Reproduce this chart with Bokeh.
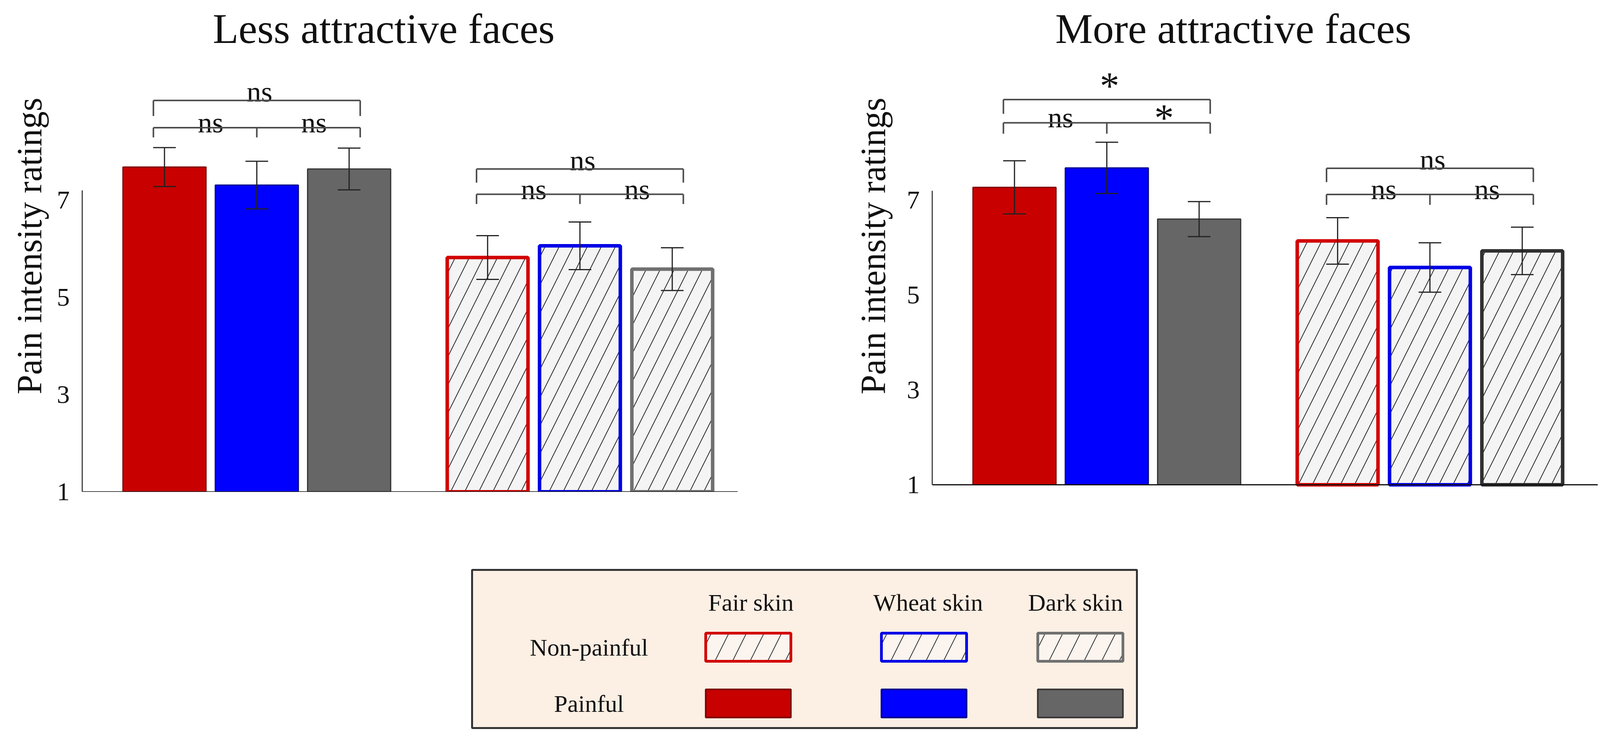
from bokeh.plotting import figure
from bokeh.models import Range1d, FixedTicker, Whisker, TeeHead, ColumnDataSource, Spacer
from bokeh.layouts import column, row
from bokeh.core.properties import value
from bokeh.embed import file_html
from bokeh.resources import INLINE

# ---------------- data ----------------
skins = ["Fair skin", "Wheat skin", "Dark skin"]
conditions = ["Non-painful", "Painful"]
panel_titles = ["Less attractive faces", "More attractive faces"]
y_ticks = [1, 3, 5, 7]
y_label = "Pain intensity ratings"

less_painful = [7.68, 7.31, 7.64]
less_painful_err = [0.40, 0.49, 0.43]
less_nonpainful = [5.82, 6.06, 5.58]
less_nonpainful_err = [0.45, 0.49, 0.44]

more_painful = [7.27, 7.68, 6.60]
more_painful_err = [0.56, 0.54, 0.37]
more_nonpainful = [6.14, 5.58, 5.93]
more_nonpainful_err = [0.49, 0.52, 0.50]

# significance: [outer (1 vs 3), inner left (1 vs 2), inner right (2 vs 3)]
less_sig_painful = ["ns", "ns", "ns"]
less_sig_nonpainful = ["ns", "ns", "ns"]
more_sig_painful = ["*", "ns", "*"]
more_sig_nonpainful = ["ns", "ns", "ns"]

# ---------------- styles ----------------
FONT = "Liberation Serif"
PAINFUL_FILL = ["#c80000", "#0000ff", "#666666"]
PAINFUL_LINE = ["#7a0000", "#00008a", "#333333"]
NONPAIN_LINE_LEFT = ["#d20000", "#0000e6", "#707070"]
NONPAIN_LINE_RIGHT = ["#d20000", "#0000e6", "#303030"]
LEGEND_NONPAIN_LINE = ["#d20000", "#0000e6", "#707070"]
BRACKET_COLOR = "#4d4d4d"
K = 0.953            # horizontal layout scale
TXT_SHIFT = 0.27     # baseline correction (fraction of font size)
FIG_H = 1300
FRAME_BOTTOM = 1259  # frame bottom, px from figure top (same for both panels)

pos_painful = [0, 1, 2]
pos_nonpainful = [3.5, 4.5, 5.5]


def make_panel(title, painful, perr, nonp, nerr, sig_p, sig_n, nonp_lines, g):
    ppu = g["ppu"]
    frame_h = FRAME_BOTTOM
    y_start = 1 - g["base_lift"] / ppu
    y_end = y_start + frame_h / ppu
    frame_w = g["width"] - g["left"] - g["right"]
    x_end = g["xstart"] + frame_w / g["ppx"]
    p = figure(width=g["width"], height=FIG_H,
               x_range=Range1d(g["xstart"], x_end), y_range=Range1d(y_start, y_end),
               output_backend="svg", toolbar_location=None,
               min_border_left=g["left"], min_border_right=g["right"],
               min_border_top=0, min_border_bottom=FIG_H - FRAME_BOTTOM,
               outline_line_color=None, background_fill_color="white",
               border_fill_color="white")
    p.xgrid.visible = False
    p.ygrid.visible = False

    ya = p.yaxis[0]
    ya.ticker = FixedTicker(ticks=y_ticks)
    ya.bounds = (1, 7.2)
    ya.major_tick_line_color = None
    ya.minor_tick_line_color = None
    ya.axis_line_color = "#444444"
    ya.axis_line_width = 3
    ya.major_label_text_font = FONT
    ya.major_label_text_font_size = "66px"
    ya.major_label_text_color = "#111111"
    ya.major_label_standoff = 26
    ya.axis_label = y_label
    ya.axis_label_text_font = FONT
    ya.axis_label_text_font_size = "90px"
    ya.axis_label_text_font_style = "normal"
    ya.axis_label_text_color = "#111111"
    ya.axis_label_standoff = g["label_standoff"]

    xa = p.xaxis[0]
    xa.fixed_location = 1
    xa.ticker = FixedTicker(ticks=[])
    xa.major_label_text_font_size = "0px"
    xa.major_tick_line_color = None
    xa.minor_tick_line_color = None
    xa.axis_line_color = "#111111"
    xa.axis_line_width = 3

    src_p = ColumnDataSource(dict(x=pos_painful, top=painful, fill=PAINFUL_FILL, line=PAINFUL_LINE))
    p.vbar(x="x", top="top", bottom=1, width=0.9, source=src_p,
           fill_color="fill", line_color="line", line_width=3)

    src_n = ColumnDataSource(dict(x=pos_nonpainful, top=nonp, line=nonp_lines))
    p.vbar(x="x", top="top", bottom=1, width=0.875, source=src_n,
           fill_color="#f4f4f4", line_color="line", line_width=9,
           hatch_pattern="/", hatch_color="#2a2a2a", hatch_weight=2, hatch_scale=72)

    xs = pos_painful + pos_nonpainful
    means = painful + nonp
    errs = perr + nerr
    src_e = ColumnDataSource(dict(x=xs,
                                  upper=[m + e for m, e in zip(means, errs)],
                                  lower=[m - e for m, e in zip(means, errs)]))
    p.add_layout(Whisker(base="x", upper="upper", lower="lower", source=src_e,
                         level="annotation", line_color="#222222", line_width=3,
                         upper_head=TeeHead(size=58, line_color="#222222", line_width=3),
                         lower_head=TeeHead(size=58, line_color="#222222", line_width=3)))

    # significance brackets
    x0s, y0s, x1s, y1s = [], [], [], []
    for pos, lev, sig in ((pos_painful, g["lev_p"], sig_p), (pos_nonpainful, g["lev_n"], sig_n)):
        yo, yol, yi, yil = lev
        xl, xm, xr = pos[0] - 0.12, pos[1], pos[2] + 0.12
        segs = [(xl, yo, xr, yo), (xl, yo, xl, yol), (xr, yo, xr, yol),
                (xl, yi, xr, yi), (xl, yi, xl, yil), (xm, yi, xm, yil), (xr, yi, xr, yil)]
        for a, b, c, d in segs:
            x0s.append(a); y0s.append(b); x1s.append(c); y1s.append(d)
        label_x = [pos[1] + 0.03, pos[0] + 0.5, pos[0] + 1.62]
        label_y = [yo, yi, yi]
        for k, (lx, ly, s) in enumerate(zip(label_x, label_y, sig)):
            if s == "*":
                fs = 100
                off_px = -8 if k == 0 else 14
            else:
                fs = 74
                off_px = -2 if k == 0 else 7
            ty = ly - (off_px - TXT_SHIFT * fs) / ppu
            p.text(x=[lx], y=[ty], text=[s], text_font=value(FONT), text_font_size=f"{fs}px",
                   text_align="center", text_baseline="alphabetic", text_color="#111111")
    p.segment(x0=x0s, y0=y0s, x1=x1s, y1=y1s, line_color=BRACKET_COLOR, line_width=4)

    # panel title
    tfs = 108
    ty = y_end - (g["title_base"] - TXT_SHIFT * tfs) / ppu
    p.text(x=[g["title_x"]], y=[ty], text=[title], text_font=value(FONT),
           text_font_size=f"{tfs}px", text_align="center", text_baseline="alphabetic",
           text_color="#111111")
    return p


# layout in page pixels (horizontal values scaled by K)
L_FRAME_L, L_FRAME_R = round(229 * K), round(1990 * K)
R_START = round(2200 * K)
R_FRAME_L, R_FRAME_R = round(2512 * K), round(4300 * K)
PPX = 248 * K

g_left = dict(width=R_START - 8, left=L_FRAME_L - 8,
              right=(R_START - 8) - (L_FRAME_L - 8) - (L_FRAME_R - L_FRAME_L),
              ppu=124.5, base_lift=0, ppx=PPX, xstart=-0.891, label_standoff=18,
              title_x=2.375, title_base=102,
              lev_p=(9.05, 8.73, 8.49, 8.29), lev_n=(7.64, 7.36, 7.12, 6.92))
g_right = dict(width=(R_FRAME_L - R_START) + (R_FRAME_R - R_FRAME_L) + 2,
               left=R_FRAME_L - R_START, right=2, ppu=121.5, base_lift=18, ppx=PPX,
               xstart=-0.891, label_standoff=34, title_x=2.37, title_base=102,
               lev_p=(9.12, 8.82, 8.63, 8.40), lev_n=(7.67, 7.38, 7.12, 6.90))

p1 = make_panel(panel_titles[0], less_painful, less_painful_err, less_nonpainful,
                less_nonpainful_err, less_sig_painful, less_sig_nonpainful, NONPAIN_LINE_LEFT, g_left)
p2 = make_panel(panel_titles[1], more_painful, more_painful_err, more_nonpainful,
                more_nonpainful_err, more_sig_painful, more_sig_nonpainful, NONPAIN_LINE_RIGHT, g_right)

# ---------------- legend box ----------------
LW, LH = round((3062 - 1276) * K), 405
leg = figure(width=LW + 6, height=LH + 6, x_range=Range1d(0, LW), y_range=Range1d(0, LH),
             output_backend="svg", toolbar_location=None,
             min_border_left=3, min_border_right=3, min_border_top=3, min_border_bottom=3,
             background_fill_color="#fcefe4", border_fill_color="white",
             outline_line_color="#333333", outline_line_width=5)
leg.axis.visible = False
leg.grid.visible = False

header_x = [749 * K, 1225 * K, 1621 * K]
header_y = 322
swatch_x = [742 * K, 1214 * K, 1634 * K]
row_y = [207, 63]
row_label_x = 314 * K
SW_W, SW_H = 218, 72

leg.text(x=header_x, y=[header_y] * 3, text=skins, text_font=value(FONT),
         text_font_size="62px", text_align="center", text_baseline="middle", text_color="#111111")
leg.text(x=[row_label_x] * 2, y=row_y, text=conditions, text_font=value(FONT),
         text_font_size="62px", text_align="center", text_baseline="middle", text_color="#111111")

src_ln = ColumnDataSource(dict(x=swatch_x, y=[row_y[0]] * 3, line=LEGEND_NONPAIN_LINE))
leg.rect(x="x", y="y", width=SW_W, height=SW_H, source=src_ln, fill_color="#fbf4ef",
         line_color="line", line_width=7, hatch_pattern="/", hatch_color="#333333",
         hatch_weight=2, hatch_scale=90)
src_lp = ColumnDataSource(dict(x=swatch_x, y=[row_y[1]] * 3, fill=PAINFUL_FILL, line=PAINFUL_LINE))
leg.rect(x="x", y="y", width=SW_W, height=SW_H, source=src_lp, fill_color="fill",
         line_color="line", line_width=4)

LEG_LEFT = round(1276 * K) - 3
layout = column(row(p1, p2), Spacer(height=156), row(Spacer(width=LEG_LEFT - 8), leg))

open("out.html", "w").write(file_html(layout, INLINE))
